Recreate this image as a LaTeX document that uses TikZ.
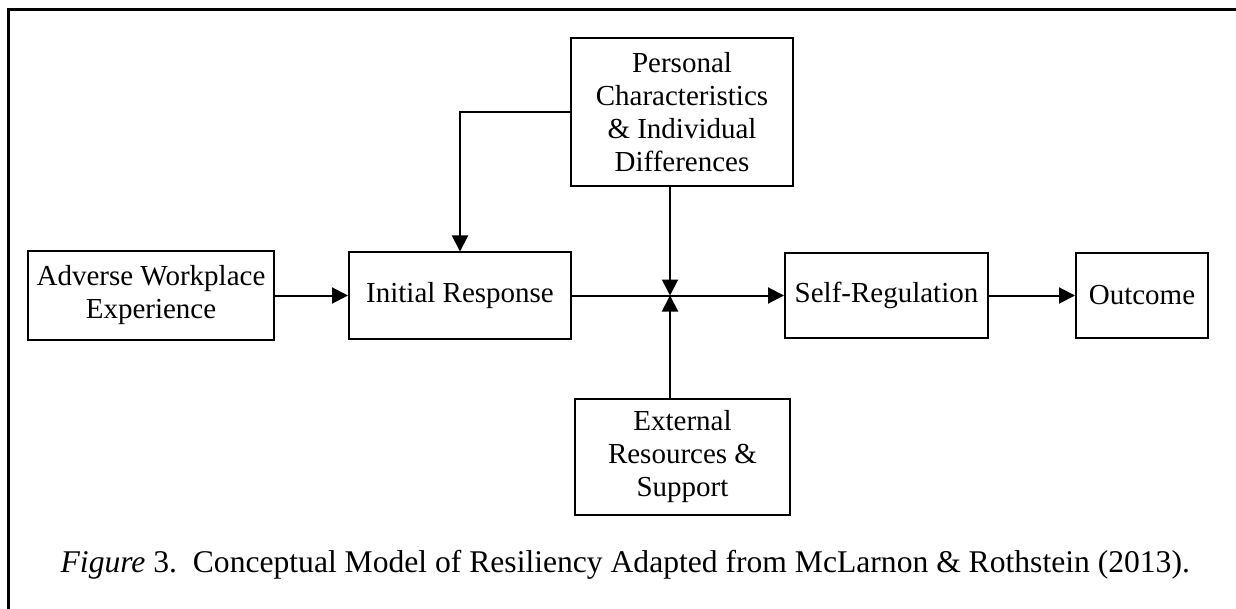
\documentclass[tikz,border=0pt]{standalone}
\usepackage{fontspec}
\setmainfont{Liberation Serif}
\usetikzlibrary{arrows.meta}

\begin{document}
\fontsize{14.5pt}{16.5pt}\selectfont
\begin{tikzpicture}[x=0.5pt, y=-0.5pt, line width=1pt,
        >={Triangle[length=8pt,width=8pt]},
        box/.style={draw, align=center, inner sep=0pt}]
        \useasboundingbox (0,0) rectangle (1236,609);
        \draw[line width=1.5pt] (8,609) -- (8,10) -- (1236,10);

        \node[box, minimum width=123pt, minimum height=44pt] (a) at (151, 295.5) {Adverse Workplace\\Experience};
        \node[box, minimum width=111pt, minimum height=43pt] (b) at (460, 295.5) {Initial Response};
        \node[box, minimum width=111pt, minimum height=74pt] (c) at (682, 112) {Personal\\Characteristics\\\& Individual\\Differences};
        \node[box, minimum width=107.5pt, minimum height=58pt] (d) at (682.5, 457) {External\\Resources \&\\Support};
        \node[box, minimum width=101.5pt, minimum height=42.5pt] (e) at (886.5, 295.5) {Self-Regulation};
        \node[box, minimum width=66pt, minimum height=42.5pt] (f) at (1142, 295.5) {Outcome};
        \coordinate (j) at (670, 295.5);

        \node[anchor=base west, font=\fontsize{15.8pt}{18pt}\selectfont] (g) at (50, 572) {\textit{Figure} 3.\, Conceptual Model of Resiliency Adapted from McLarnon \& Rothstein (2013).};

        \draw[->] (a) -- (b);
        \draw[->] (b) -- (e);
        \draw[->] (e) -- (f);

        \draw[->] (c.west) -| (b.north);
        \draw[->] (c.south -| j) -- (j);
        \draw[->] (d.north -| j) -- (j);
    \end{tikzpicture}
\end{document}
